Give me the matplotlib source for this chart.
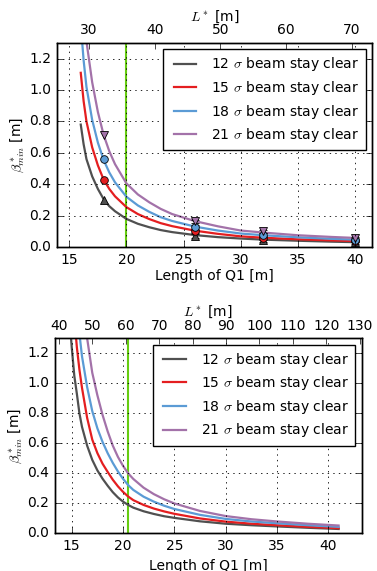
import matplotlib
matplotlib.use('Agg')
import matplotlib.pyplot as plt
import numpy as np

plt.style.use('classic')
plt.rcParams['font.size'] = 10
plt.rcParams['mathtext.fontset'] = 'cm'
plt.rcParams['legend.fontsize'] = 10

# labels / colours
labels = ['12 $\\sigma$ beam stay clear', '15 $\\sigma$ beam stay clear',
          '18 $\\sigma$ beam stay clear', '21 $\\sigma$ beam stay clear']
colors = ['#505050', '#e41e20', '#5b9bd5', '#a372a9']
markers = ['^', 'o', 'o', 'v']

# ---- top panel: curves ----
q1_top = [16, 16.25, 16.5, 17, 17.5, 18, 18.5, 19, 20, 21, 22, 23, 24, 26, 28, 30, 32, 35, 38, 40]
top_12 = [0.78, 0.655, 0.56, 0.45, 0.37, 0.305, 0.26, 0.228, 0.179, 0.148, 0.126, 0.108, 0.095,
          0.076, 0.063, 0.054, 0.047, 0.040, 0.034, 0.031]
top_15 = [1.11, 0.93, 0.80, 0.635, 0.52, 0.43, 0.37, 0.323, 0.254, 0.21, 0.178, 0.152, 0.133,
          0.104, 0.084, 0.068, 0.059, 0.049, 0.042, 0.038]
top_18 = [1.42, 1.19, 1.02, 0.81, 0.665, 0.555, 0.475, 0.412, 0.32, 0.265, 0.224, 0.19, 0.166,
          0.13, 0.105, 0.086, 0.075, 0.062, 0.052, 0.047]
top_21 = [1.82, 1.53, 1.31, 1.05, 0.86, 0.715, 0.61, 0.528, 0.405, 0.335, 0.285, 0.243, 0.21,
          0.165, 0.132, 0.105, 0.092, 0.075, 0.064, 0.058]

# simulated point at the shortest Q1 (no error bar)
q1_first = [18]
first_pts = [[0.30], [0.426], [0.56], [0.716]]
# simulated points with error bars
q1_pts = [26, 32, 40]
pts_12 = [0.071, 0.043, 0.030]
pts_15 = [0.099, 0.056, 0.038]
pts_18 = [0.127, 0.077, 0.047]
pts_21 = [0.163, 0.099, 0.058]
pts_err = [0.012, 0.01, 0.008]

# ---- bottom panel ----
q1_bot = [14.8, 15, 15.25, 15.5, 15.75, 16, 16.5, 17, 17.5, 18, 18.5, 19, 19.5, 20, 20.5, 21,
          22, 23, 24, 25, 27.5, 30, 32.5, 35, 38, 41]
nan = np.nan
bot_12 = [1.42, 1.24, 1.05, 0.93, 0.80, 0.71, 0.585, 0.49, 0.42, 0.365, 0.318, 0.275, 0.24, 0.212,
          0.19, 0.172, 0.148, 0.13, 0.115, 0.104, 0.081, 0.065, 0.055, 0.047, 0.038, 0.030]
bot_15 = [nan, 1.7, 1.44, 1.24, 1.09, 0.97, 0.77, 0.625, 0.535, 0.465, 0.41, 0.358, 0.314, 0.277,
          0.246, 0.222, 0.19, 0.166, 0.147, 0.131, 0.1, 0.079, 0.065, 0.055, 0.044, 0.035]
bot_18 = [nan, 2.2, 1.85, 1.55, 1.33, 1.18, 0.975, 0.815, 0.70, 0.61, 0.535, 0.47, 0.413, 0.364,
          0.322, 0.29, 0.245, 0.212, 0.185, 0.163, 0.124, 0.097, 0.08, 0.068, 0.055, 0.044]
bot_21 = [nan, nan, nan, 2.6, 2.1, 1.72, 1.3, 1.07, 0.92, 0.79, 0.68, 0.585, 0.51, 0.45,
          0.40, 0.363, 0.305, 0.262, 0.228, 0.2, 0.15, 0.116, 0.095, 0.08, 0.065, 0.053]

fig = plt.figure(figsize=(3.77, 5.71), dpi=100)
fig.patch.set_facecolor('white')


def style_axes(ax, xlim, lstar_lim, lstar_ticks, vline, xlabelpad):
    ax.set_xlim(xlim)
    ax.set_ylim(0, 1.3)
    ax.set_yticks(np.arange(0, 1.21, 0.2))
    ax.set_xticks([15, 20, 25, 30, 35, 40])
    ax.grid(True, color='k', linestyle=':', linewidth=0.6)
    ax.axvline(vline, color='#66cc11', lw=1.5, zorder=1)
    ax.set_xlabel('Length of Q1 [m]', labelpad=xlabelpad)
    ax.set_ylabel('$\\beta^*_{min}$ [m]', labelpad=2)
    ax.legend(loc='upper right', handlelength=2.2, labelspacing=0.4, borderpad=0.45,
              borderaxespad=0.45, fancybox=False, framealpha=1, numpoints=2)
    top = ax.twiny()
    top.set_xlim(lstar_lim)
    top.set_xticks(lstar_ticks)
    top.set_xlabel('$L^*$ [m]', labelpad=2)
    return top


# top panel
ax1 = fig.add_axes([0.1512, 0.5674, 0.8355, 0.3573])
for vals, c, lab in zip([top_12, top_15, top_18, top_21], colors, labels):
    ax1.plot(q1_top, vals, color=c, lw=1.6, label=lab)
for vals, first, c, m in zip([pts_12, pts_15, pts_18, pts_21], first_pts, colors, markers):
    ax1.plot(q1_first, first, m, color=c, mec='k', mew=0.6, ms=5.5)
    ax1.errorbar(q1_pts, vals, yerr=pts_err, fmt=m, color=c, mec='k', mew=0.6, ms=5.5,
                 ecolor='k', elinewidth=1, capsize=3)
style_axes(ax1, (13.92, 41.5), (25.1, 73.1), [30, 40, 50, 60, 70], 20, 2)

# bottom panel
ax2 = fig.add_axes([0.1459, 0.0657, 0.8135, 0.3419])
for vals, c, lab in zip([bot_12, bot_15, bot_18, bot_21], colors, labels):
    ax2.plot(q1_bot, vals, color=c, lw=1.6, label=lab)
style_axes(ax2, (13.37, 43.25), (38.8, 130.6), list(range(40, 131, 10)), 20.5, 4)

fig.savefig('out.png', dpi=100, facecolor='white')
